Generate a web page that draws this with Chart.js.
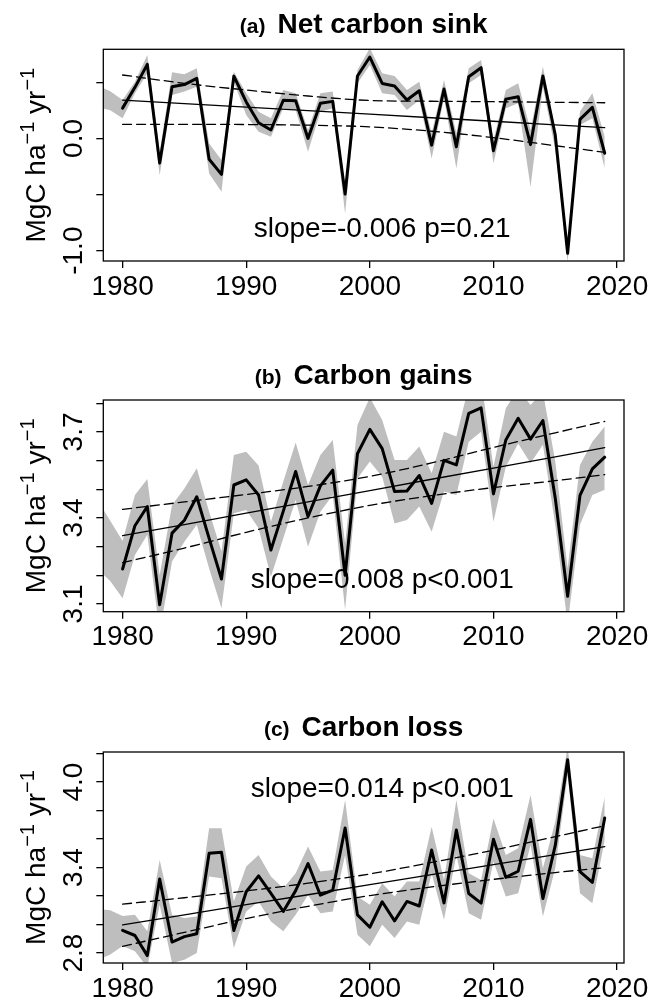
<!DOCTYPE html>
<html>
<head>
<meta charset="utf-8">
<script src="https://cdn.jsdelivr.net/npm/chart.js@4.4.1/dist/chart.umd.min.js"></script>
<style>
  html, body { margin: 0; padding: 0; background: #fff; }
  #wrap { position: relative; width: 662px; height: 999px; }
  .panel { position: absolute; left: 0; width: 662px; height: 333px; }
</style>
</head>
<body>
<div id="wrap">
  <div class="panel" style="top:0"><canvas id="sinkChart"></canvas></div>
  <div class="panel" style="top:333px"><canvas id="gainChart"></canvas></div>
  <div class="panel" style="top:666px"><canvas id="lossChart"></canvas></div>
</div>
<script>
// ---- data ----
const years = [1980, 1981, 1982, 1983, 1984, 1985, 1986, 1987, 1988, 1989,
               1990, 1991, 1992, 1993, 1994, 1995, 1996, 1997, 1998, 1999,
               2000, 2001, 2002, 2003, 2004, 2005, 2006, 2007, 2008, 2009,
               2010, 2011, 2012, 2013, 2014, 2015, 2016, 2017, 2018, 2019];
// the grey band starts a little before the first year
const bandYears = [1978, 1979, 1980, 1981, 1982, 1983, 1984, 1985, 1986, 1987, 1988, 1989,
                   1990, 1991, 1992, 1993, 1994, 1995, 1996, 1997, 1998, 1999,
                   2000, 2001, 2002, 2003, 2004, 2005, 2006, 2007, 2008, 2009,
                   2010, 2011, 2012, 2013, 2014, 2015, 2016, 2017, 2018, 2019];
const trendYears = [1980, 1985, 1990, 1995, 2000, 2005, 2010, 2015, 2019];
const xTicks = [1980, 1990, 2000, 2010, 2020];

// (a) net carbon sink
const sinkValues = [0.27, 0.455, 0.66, -0.22, 0.46, 0.48, 0.535, -0.185, -0.32, 0.555,
                    0.325, 0.14, 0.075, 0.34, 0.335, 0.0, 0.313, 0.33, -0.495, 0.556,
                    0.725, 0.49, 0.467, 0.342, 0.425, -0.06, 0.44, -0.075, 0.55, 0.63,
                    -0.11, 0.35, 0.372, -0.055, 0.556, 0.03, -1.023, 0.17, 0.277, -0.132];
const sinkHi = [0.47, 0.42, 0.342, 0.506, 0.744, -0.119, 0.589, 0.571, 0.625, -0.045, -0.193, 0.595,
                0.402, 0.238, 0.179, 0.432, 0.402, 0.074, 0.402, 0.417, -0.432, 0.61,
                0.804, 0.58, 0.557, 0.432, 0.506, 0.045, 0.521, 0.045, 0.625, 0.699,
                -0.015, 0.432, 0.491, 0.074, 0.64, 0.074, -0.952, 0.24, 0.402, 0.015];
const sinkLo = [0.28, 0.25, 0.179, 0.402, 0.58, -0.327, 0.387, 0.417, 0.461, -0.313, -0.476, 0.506,
                0.208, 0.06, 0.015, 0.268, 0.253, -0.119, 0.238, 0.268, -0.67, 0.491,
                0.655, 0.402, 0.387, 0.253, 0.342, -0.179, 0.357, -0.268, 0.491, 0.565,
                -0.223, 0.268, 0.313, -0.432, 0.461, -0.104, -1.101, 0.12, 0.179, -0.268];
const sinkTrend = [0.342, 0.310, 0.279, 0.247, 0.216, 0.184, 0.153, 0.121, 0.096];
const sinkTrendHi = [0.565, 0.491, 0.431, 0.378, 0.338, 0.331, 0.327, 0.322, 0.318];
const sinkTrendLo = [0.126, 0.126, 0.124, 0.118, 0.103, 0.064, 0.007, -0.065, -0.124];

// (b) carbon gains
const gainValues = [3.222, 3.373, 3.44, 3.097, 3.347, 3.392, 3.474, 3.329, 3.187, 3.515,
                    3.533, 3.48, 3.288, 3.424, 3.562, 3.405, 3.512, 3.567, 3.2, 3.624,
                    3.709, 3.642, 3.492, 3.494, 3.548, 3.451, 3.601, 3.585, 3.765, 3.784,
                    3.484, 3.672, 3.748, 3.675, 3.74, 3.469, 3.127, 3.479, 3.571, 3.612];
const gainHi = [3.46, 3.39, 3.32, 3.48, 3.536, 3.20, 3.445, 3.503, 3.573, 3.422, 3.283, 3.62,
                3.631, 3.583, 3.387, 3.527, 3.663, 3.515, 3.62, 3.672, 3.31, 3.724,
                3.82, 3.742, 3.602, 3.602, 3.649, 3.556, 3.701, 3.684, 3.86, 3.88,
                3.579, 3.783, 3.85, 3.794, 3.84, 3.597, 3.224, 3.585, 3.666, 3.719];
const gainLo = [3.22, 3.18, 3.12, 3.271, 3.341, 3.00, 3.248, 3.317, 3.376, 3.224, 3.085, 3.416,
                3.428, 3.364, 3.195, 3.329, 3.463, 3.30, 3.422, 3.48, 3.08, 3.538,
                3.597, 3.544, 3.381, 3.393, 3.44, 3.352, 3.492, 3.48, 3.666, 3.701,
                3.387, 3.579, 3.66, 3.591, 3.655, 3.376, 3.03, 3.376, 3.48, 3.498];
const gainTrend = [3.338, 3.377, 3.417, 3.456, 3.495, 3.535, 3.574, 3.613, 3.645];
const gainTrendHi = [3.430, 3.456, 3.482, 3.510, 3.545, 3.592, 3.646, 3.697, 3.737];
const gainTrendLo = [3.244, 3.295, 3.350, 3.400, 3.444, 3.478, 3.506, 3.530, 3.551];

// (c) carbon loss
const lossValues = [2.959, 2.923, 2.782, 3.32, 2.877, 2.915, 2.935, 3.5, 3.508, 2.958,
                    3.23, 3.341, 3.218, 3.092, 3.238, 3.428, 3.206, 3.241, 3.678, 3.068,
                    2.981, 3.16, 3.026, 3.162, 3.13, 3.523, 3.152, 3.663, 3.218, 3.15,
                    3.598, 3.331, 3.374, 3.738, 3.182, 3.555, 4.156, 3.372, 3.296, 3.748];
const lossHi = [3.11, 3.10, 3.06, 3.068, 2.952, 3.453, 3.068, 3.045, 3.057, 3.675, 3.675, 3.162,
                3.407, 3.488, 3.337, 3.255, 3.36, 3.547, 3.372, 3.383, 3.874, 3.197,
                3.138, 3.29, 3.197, 3.302, 3.302, 3.687, 3.313, 3.874, 3.36, 3.313,
                3.745, 3.488, 3.535, 3.909, 3.395, 3.722, 4.25, 3.488, 3.465, 3.897];
const lossLo = [2.75, 2.79, 2.85, 2.812, 2.70, 3.138, 2.73, 2.753, 2.8, 3.337, 3.325, 2.835,
                3.092, 3.162, 3.022, 2.952, 3.068, 3.208, 3.08, 3.092, 3.488, 2.928,
                2.847, 2.998, 2.905, 3.022, 2.998, 3.36, 3.033, 3.488, 3.08, 3.033,
                3.442, 3.197, 3.22, 3.558, 3.057, 3.395, 4.049, 3.22, 3.15, 3.593];
const lossTrend = [2.998, 3.068, 3.139, 3.209, 3.280, 3.350, 3.420, 3.491, 3.547];
const lossTrendHi = [3.143, 3.188, 3.236, 3.290, 3.355, 3.436, 3.522, 3.617, 3.694];
const lossTrendLo = [2.847, 2.945, 3.042, 3.128, 3.203, 3.264, 3.317, 3.365, 3.399];

// ---- drawing ----
const FONT = "'Liberation Sans', Arial, Helvetica, sans-serif";
const GREY = '#BEBEBE';
const PLOT_LEFT = 103.3, PLOT_RIGHT = 624;

function pts(xs, ys) {
    return xs.map((v, i) => ({ x: v, y: ys[i] }));
}

// box, rotated y labels, axis title, panel title and slope note (R style)
function decor(p) {
    return {
        id: 'decor',
        afterDraw(chart) {
            const ctx = chart.ctx;
            const a = chart.chartArea;
            const xs = chart.scales.x, ys = chart.scales.y;
            ctx.save();
            ctx.strokeStyle = '#000';
            ctx.lineWidth = 1.3;
            ctx.strokeRect(a.left, a.top, a.right - a.left, a.bottom - a.top);
            ctx.fillStyle = '#000';

            // tick labels parallel to the axis
            ctx.font = '28px ' + FONT;
            ctx.textAlign = 'center';
            ctx.textBaseline = 'alphabetic';
            p.yLabels.forEach(function(v) {
                ctx.save();
                ctx.translate(82, ys.getPixelForValue(v));
                ctx.rotate(-Math.PI / 2);
                ctx.fillText(v.toFixed(1), 0, 0);
                ctx.restore();
            });

            // MgC ha^-1 yr^-1
            const parts = [
                { t: 'MgC ha', size: 28, rise: 0 },
                { t: '\u22121', size: 20, rise: 11 },
                { t: ' yr', size: 28, rise: 0 },
                { t: '\u22121', size: 20, rise: 11 }
            ];
            let total = 0;
            parts.forEach(function(pt) {
                ctx.font = pt.size + 'px ' + FONT;
                pt.w = ctx.measureText(pt.t).width;
                total += pt.w;
            });
            ctx.save();
            ctx.translate(45, (a.top + a.bottom) / 2);
            ctx.rotate(-Math.PI / 2);
            ctx.textAlign = 'left';
            let u = -total / 2;
            parts.forEach(function(pt) {
                ctx.font = pt.size + 'px ' + FONT;
                ctx.fillText(pt.t, u, -pt.rise);
                u += pt.w;
            });
            ctx.restore();

            // title: small bold tag + bold name
            ctx.textAlign = 'left';
            ctx.font = 'bold 21px ' + FONT;
            const wTag = ctx.measureText(p.tag).width;
            ctx.font = 'bold 28px ' + FONT;
            const wName = ctx.measureText(p.name).width;
            const gap = 12;
            let tx = (a.left + a.right) / 2 - (wTag + gap + wName) / 2;
            const ty = a.top - 16.5;
            ctx.font = 'bold 21px ' + FONT;
            ctx.fillText(p.tag, tx, ty);
            ctx.font = 'bold 28px ' + FONT;
            ctx.fillText(p.name, tx + wTag + gap, ty);

            // slope note
            ctx.textAlign = 'center';
            ctx.font = '28px ' + FONT;
            ctx.fillText(p.note, xs.getPixelForValue(p.noteAt[0]), ys.getPixelForValue(p.noteAt[1]));
            ctx.restore();
        }
    };
}

function drawPanel(id, p) {
    const tickGrid = {
        drawOnChartArea: false,
        drawTicks: true,
        tickLength: 7,
        color: '#000',
        lineWidth: 1.3
    };
    new Chart(document.getElementById(id), {
        type: 'line',
        data: {
            datasets: [
                { data: pts(years, p.values), borderColor: '#000', borderWidth: 3, order: 0 },
                { data: pts(trendYears, p.trend), borderColor: '#000', borderWidth: 1.3, order: 1 },
                { data: pts(trendYears, p.trendHi), borderColor: '#000', borderWidth: 1.3,
                  borderDash: [9, 5], cubicInterpolationMode: 'monotone', order: 1 },
                { data: pts(trendYears, p.trendLo), borderColor: '#000', borderWidth: 1.3,
                  borderDash: [9, 5], cubicInterpolationMode: 'monotone', order: 1 },
                { data: pts(bandYears, p.bandHi), borderColor: 'rgba(0,0,0,0)', borderWidth: 0,
                  backgroundColor: GREY, fill: '+1', order: 2 },
                { data: pts(bandYears, p.bandLo), borderColor: 'rgba(0,0,0,0)', borderWidth: 0,
                  fill: false, order: 2 }
            ]
        },
        options: {
            animation: false,
            responsive: true,
            maintainAspectRatio: false,
            events: [],
            elements: {
                point: { radius: 0 },
                line: { tension: 0, borderJoinStyle: 'round', borderCapStyle: 'round' }
            },
            layout: { padding: { top: p.top, right: 662 - PLOT_RIGHT, left: 0, bottom: 0 } },
            plugins: {
                legend: { display: false },
                tooltip: { enabled: false }
            },
            scales: {
                x: {
                    type: 'linear',
                    min: 1978.44,
                    max: 2020.56,
                    afterBuildTicks: function(s) { s.ticks = xTicks.map(v => ({ value: v })); },
                    afterFit: function(s) { s.height = p.axisH; },
                    grid: tickGrid,
                    border: { display: false },
                    ticks: {
                        color: '#000',
                        font: { family: FONT, size: 28 },
                        padding: 2,
                        autoSkip: false,
                        maxRotation: 0,
                        callback: function(v) { return String(v); }
                    }
                },
                y: {
                    type: 'linear',
                    min: p.yMin,
                    max: p.yMax,
                    afterBuildTicks: function(s) { s.ticks = p.yTicks.map(v => ({ value: v })); },
                    afterFit: function(s) { s.width = PLOT_LEFT; },
                    grid: tickGrid,
                    border: { display: false },
                    ticks: { display: false }
                }
            }
        },
        plugins: [decor(p)]
    });
}

drawPanel('sinkChart', {
    values: sinkValues, bandHi: sinkHi, bandLo: sinkLo,
    trend: sinkTrend, trendHi: sinkTrendHi, trendLo: sinkTrendLo,
    top: 49.3, axisH: 72,
    yMin: -1.092, yMax: 0.794,
    yTicks: [-1, -0.5, 0, 0.5], yLabels: [-1, 0],
    tag: '(a)', name: 'Net carbon sink',
    note: 'slope=-0.006 p=0.21', noteAt: [2001, -0.878]
});

drawPanel('gainChart', {
    values: gainValues, bandHi: gainHi, bandLo: gainLo,
    trend: gainTrend, trendHi: gainTrendHi, trendLo: gainTrendLo,
    top: 67, axisH: 54.3,
    yMin: 3.073, yMax: 3.8115,
    yTicks: [3.1, 3.2, 3.3, 3.4, 3.5, 3.6, 3.7, 3.8], yLabels: [3.1, 3.4, 3.7],
    tag: '(b)', name: 'Carbon gains',
    note: 'slope=0.008 p<0.001', noteAt: [2001, 3.155]
});

drawPanel('lossChart', {
    values: lossValues, bandHi: lossHi, bandLo: lossLo,
    trend: lossTrend, trendHi: lossTrendHi, trendLo: lossTrendLo,
    top: 86, axisH: 36,
    yMin: 2.73, yMax: 4.211,
    yTicks: [2.8, 3.0, 3.2, 3.4, 3.6, 3.8, 4.0, 4.2], yLabels: [2.8, 3.4, 4.0],
    tag: '(c)', name: 'Carbon loss',
    note: 'slope=0.014 p<0.001', noteAt: [2001, 3.896]
});
</script>
</body>
</html>
